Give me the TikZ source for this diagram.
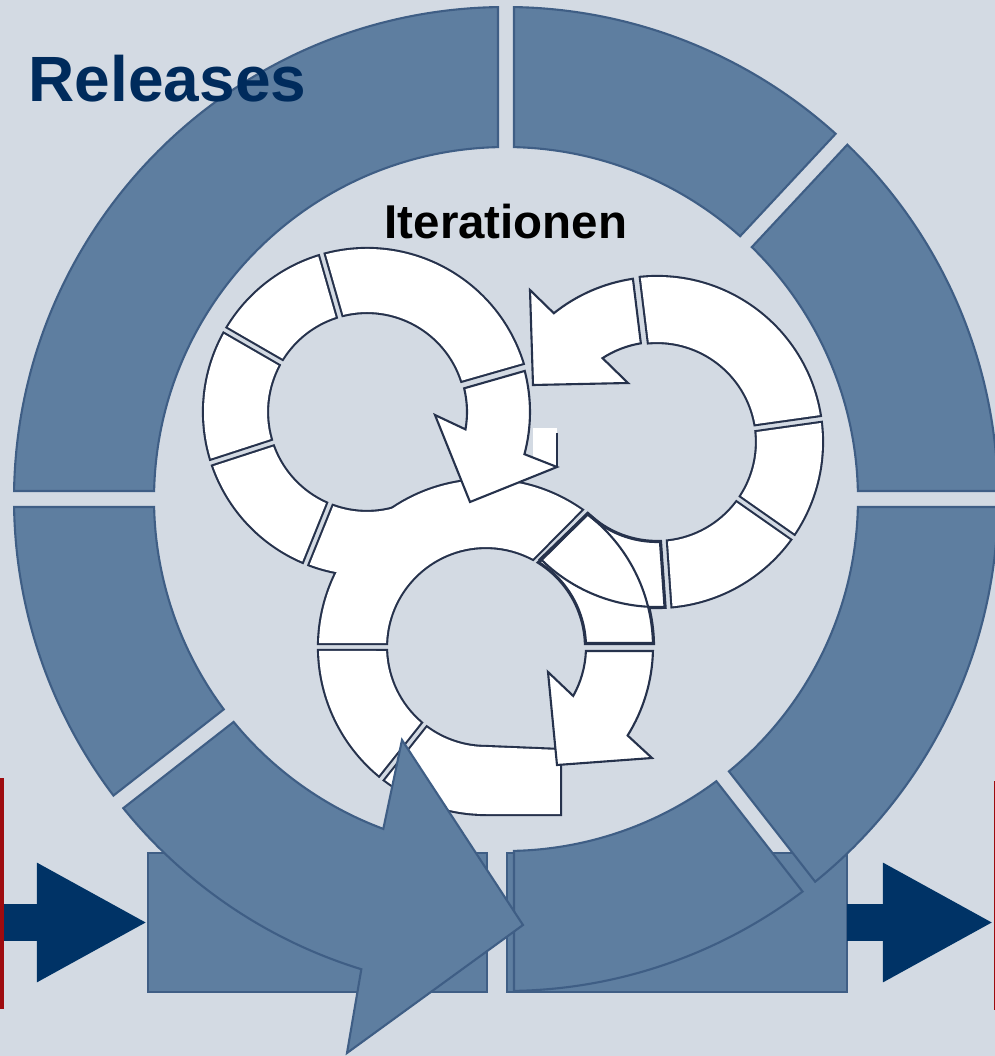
\documentclass[tikz,border=0pt]{standalone}
\usepackage{fontspec}
\setmainfont{Liberation Sans}
\usepackage{xcolor}
\usetikzlibrary{arrows.meta, positioning, calc}
\definecolor{pagebg}{HTML}{D3DAE3}
\definecolor{ringblue}{HTML}{5E7EA0}
\definecolor{ringedge}{HTML}{3F5E85}
\definecolor{navy}{HTML}{003366}
\definecolor{titleblue}{HTML}{002B5C}
\definecolor{inkline}{HTML}{26324C}
\definecolor{framered}{HTML}{9E0B0F}

% ring piece: style, centre, inner r, outer r, from, to, half gap
\newcommand{\ringseg}[7]{%
  \path[#1] ($(#2)+({#5+asin(#7/#4)}:#4)$)
    arc[start angle={#5+asin(#7/#4)}, end angle={#6-asin(#7/#4)}, radius=#4]
    -- ($(#2)+({#6-asin(#7/#3)}:#3)$)
    arc[start angle={#6-asin(#7/#3)}, end angle={#5+asin(#7/#3)}, radius=#3]
    -- cycle;}

% lower ring piece right of the shared gap
\newcommand{\crightpart}[1]{%
  \path[#1] ($(cc)+({asin(4/167)}:167)$)
    arc[start angle={asin(4/167)}, end angle=52.5, radius=167]
    -- ($(cc)+(57.8:100)$)
    arc[start angle=57.8, end angle={asin(4/100)}, radius=100] -- cycle;}

% the white iteration rings (without their arrows)
\newcommand{\whiteparts}{%
  \ringseg{wpass}{ca}{100}{163}{16}{106}{4}
  \ringseg{wpass}{ca}{100}{163}{106}{150}{4}
  \ringseg{wpass}{ca}{100}{163}{150}{198}{4}
  \ringseg{wpass}{ca}{100}{163}{198}{248}{4}
  \ringseg{wpass}{ca}{100}{163}{248}{300}{4}
  \ringseg{wpass}{cb}{100}{165}{8}{97}{4}
  \ringseg{wpass}{cb}{100}{165}{-35}{8}{4}
  \ringseg{wpass}{cb}{100}{165}{-86}{-35}{4}
  \ringseg{wpass}{cb}{100}{165}{-136}{-86}{4}
  \crightpart{wpass}
  \path[wpass] ($(cc)+(55.2:167)$)
    arc[start angle=55.2, end angle={180-asin(4/167)}, radius=167]
    -- ($(cc)+({180-asin(4/100)}:100)$)
    arc[start angle={180-asin(4/100)}, end angle=62, radius=100] -- cycle;
  \ringseg{wpass}{cc}{100}{167}{180}{231.5}{4}
  \path[wpass] ($(cc)+({231.5+asin(4/167)}:167)$)
    arc[start angle={231.5+asin(4/167)}, end angle=270, radius=167]
    -- (560,242) -- (560,306) -- ($(cc)+(270:100)$)
    arc[start angle=270, end angle={231.5+asin(4/100)}, radius=100] -- cycle;}

\begin{document}
\begin{tikzpicture}[
    x=0.01cm, y=0.01cm,
    relpart/.style={
        fill=ringblue,
        draw=ringedge,
        line width=0.6pt
    },
    relbox/.style={
        rectangle,
        fill=ringblue,
        draw=ringedge,
        line width=0.6pt,
        inner sep=0pt,
        outer sep=0pt,
        minimum height=1.39cm
    },
    frame/.style={
        rectangle,
        draw=framered,
        line width=1.2pt,
        inner sep=0pt
    },
    fatarrow/.style={
        draw=navy,
        line width=0.37cm,
        -{Triangle[length=1.11cm, width=1.11cm]}
    },
    warrow/.style={
        fill=white,
        draw=inkline,
        line width=0.6pt
    },
    wedge/.style={
        draw=inkline,
        line width=0.6pt
    }
]

\useasboundingbox (0,0) rectangle (995,1056);
\fill[pagebg] (0,0) rectangle (995,1056);

% Centres of the rings
\coordinate (o) at (506,557);
\coordinate (ca) at (367,644);
\coordinate (cb) at (657,614);
\coordinate (cc) at (486,409);

% Bottom blocks
\node[relbox, minimum width=3.39cm] (leftblock) at (317.5,133.5) {};
\node[relbox, minimum width=3.40cm, right=0.2cm of leftblock] (rightblock) {};

% Release ring
\ringseg{relpart}{o}{352}{492}{90}{180}{8}
\ringseg{relpart}{o}{352}{492}{47}{90}{8}
\ringseg{relpart}{o}{352}{492}{0}{47}{8}
\ringseg{relpart}{o}{352}{492}{-52}{0}{8}
\ringseg{relpart}{o}{352}{492}{180}{218}{8}
\ringseg{relpart}{o}{352}{492}{270}{308}{8}

% Iteration rings: outline pass, then fill pass
\tikzset{wpass/.style={draw=inkline, line width=1.2pt}}
\whiteparts
\tikzset{wpass/.style={fill=white}}
\whiteparts
\crightpart{wedge}
\ringseg{wedge}{cb}{100}{165}{-136}{-86}{4}
\fill[white] (533,589) rectangle (557,628);
\draw[wedge] (557,623) -- (557,589);

% Iteration arrows
\path[warrow] ($(ca)+({16-asin(4/163)}:163)$)
    arc[start angle={16-asin(4/163)}, end angle=-15, radius=163]
    -- (557,589) -- (470,554) -- (435,641) -- ($(ca)+(-10:100)$)
    arc[start angle=-10, end angle={16-asin(4/100)}, radius=100] -- cycle;
\path[warrow] ($(cb)+({97+asin(4/165)}:165)$)
    arc[start angle={97+asin(4/165)}, end angle=128.7, radius=165]
    -- (530,766) -- (533,671) -- (628,673) -- ($(cb)+(123:100)$)
    arc[start angle=123, end angle={97+asin(4/100)}, radius=100] -- cycle;
\path[warrow] ($(cc)+({-asin(4/167)}:167)$)
    arc[start angle={-asin(4/167)}, end angle=-32, radius=167]
    -- (652,298) -- (557,291) -- (548,384) -- ($(cc)+(-29.3:100)$)
    arc[start angle=-29.3, end angle={-asin(4/100)}, radius=100] -- cycle;

% Release arrow
\path[relpart] ($(o)+({218+asin(8/492)}:492)$)
    arc[start angle={218+asin(8/492)}, end angle=252.9, radius=492]
    -- (347,3) -- (523,131) -- (402,316) -- ($(o)+(249.6:352)$)
    arc[start angle=249.6, end angle={218+asin(8/352)}, radius=352] -- cycle;

% Frames at the page edges
\node[frame, minimum width=2cm, minimum height=2.27cm, anchor=east] (inframe) at (4,162.5) {};
\node[frame, minimum width=2cm, minimum height=2.25cm, anchor=west] (outframe) at (994,160.5) {};

% In and out
\draw[fatarrow] (inframe.east |- leftblock.west) -- (leftblock.west);
\draw[fatarrow] (rightblock.east) -- (rightblock.east -| outframe.west);

% Labels
\node[font=\fontsize{18.2}{20}\selectfont\bfseries, text=titleblue, anchor=base west, inner sep=0pt] (reltitle) at (28,955) {Releases};
\node[font=\fontsize{13.5}{15}\selectfont\bfseries, anchor=base, inner sep=0pt] (ittitle) at (506,818) {Iterationen};

\end{tikzpicture}
\end{document}
